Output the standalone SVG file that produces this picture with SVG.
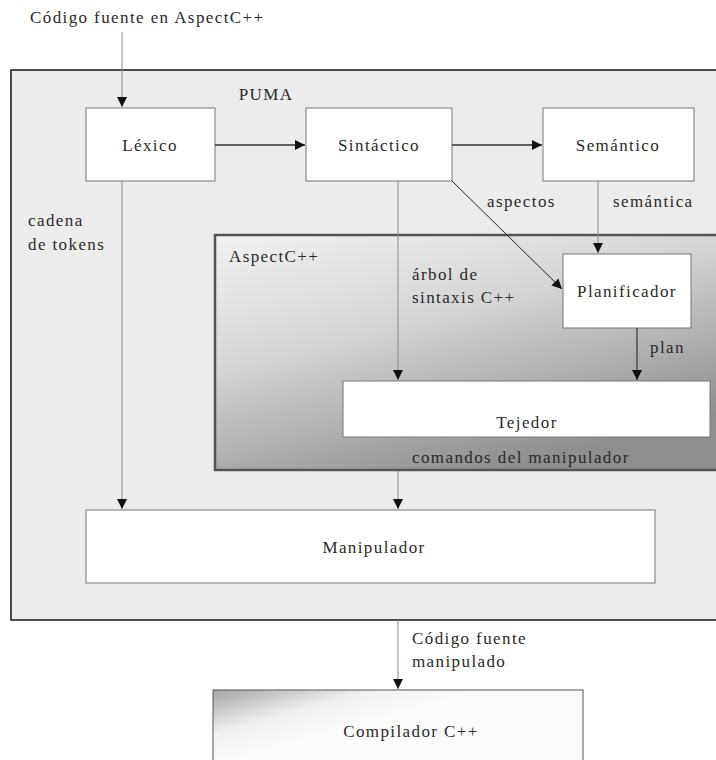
<svg xmlns="http://www.w3.org/2000/svg" width="716" height="760" viewBox="0 0 716 760">
  <defs>
    <style>
      text { font-family: "Liberation Serif", "Times New Roman", serif; font-size: 17px; letter-spacing: 1.4px; fill: #2a2a2a; }
      .mid { text-anchor: middle; }
      .node { fill: #ffffff; stroke: #777777; stroke-width: 1; }
      .thin { fill: none; stroke: #8a8a8a; stroke-width: 1; }
      .bold { fill: none; stroke: #333333; stroke-width: 1.6; }
    </style>
    <marker id="arrow" viewBox="0 0 10 10" refX="10" refY="5" markerWidth="10" markerHeight="10" markerUnits="userSpaceOnUse" orient="auto">
      <path d="M0,0 L10,5 L0,10 Z" fill="#111111"/>
    </marker>
    <linearGradient id="aspectFill" x1="0" y1="0" x2="0.55" y2="1">
      <stop offset="0" stop-color="#f2f2f2"/>
      <stop offset="0.45" stop-color="#d4d4d4"/>
      <stop offset="1" stop-color="#8e8e8e"/>
    </linearGradient>
    <linearGradient id="compFill" x1="0" y1="0" x2="0.45" y2="0.35">
      <stop offset="0" stop-color="#a4a4a4"/>
      <stop offset="0.6" stop-color="#f0f0f0"/>
      <stop offset="1" stop-color="#fbfbfb"/>
    </linearGradient>
  </defs>

  <rect width="716" height="760" fill="#ffffff"/>

  <!-- input label -->
  <text x="30" y="23">Código fuente en AspectC++</text>

  <!-- PUMA container -->
  <g id="puma">
    <rect x="11" y="70" width="720" height="550" fill="#ececec" stroke="#222222" stroke-width="1.6"/>
    <text x="266" y="100" class="mid">PUMA</text>
  </g>

  <!-- AspectC++ container -->
  <g id="aspectcpp">
    <rect x="215" y="235" width="510" height="235" fill="url(#aspectFill)" stroke="#555555" stroke-width="2.5"/>
    <text x="229" y="262">AspectC++</text>
  </g>

  <g id="lexico">
    <rect x="86" y="108" width="129" height="73" class="node"/>
    <text x="150" y="151" class="mid">Léxico</text>
  </g>
  <g id="sintactico">
    <rect x="306" y="108" width="146" height="73" class="node"/>
    <text x="379" y="151" class="mid">Sintáctico</text>
  </g>
  <g id="semantico">
    <rect x="543" y="108" width="151" height="73" class="node"/>
    <text x="618" y="151" class="mid">Semántico</text>
  </g>
  <g id="planificador">
    <rect x="563" y="254" width="128" height="74" class="node" stroke="#444444"/>
    <text x="627" y="297" class="mid">Planificador</text>
  </g>
  <g id="tejedor">
    <rect x="343" y="381" width="367" height="56" class="node" stroke="#444444"/>
    <text x="527" y="428" class="mid">Tejedor</text>
  </g>
  <g id="manipulador">
    <rect x="86" y="510" width="569" height="73" class="node"/>
    <text x="374" y="553" class="mid">Manipulador</text>
  </g>
  <g id="compilador">
    <rect x="213" y="690" width="370" height="80" fill="url(#compFill)" stroke="#555555" stroke-width="1"/>
    <text x="411" y="737" class="mid">Compilador  C++</text>
  </g>

  <!-- connectors -->
  <g id="connectors">
    <line x1="122" y1="32" x2="122" y2="107" class="thin" marker-end="url(#arrow)"/>
    <line x1="215" y1="145" x2="305" y2="145" class="bold" marker-end="url(#arrow)"/>
    <line x1="452" y1="145" x2="542" y2="145" class="bold" marker-end="url(#arrow)"/>
    <line x1="122" y1="181" x2="122" y2="509" class="thin" marker-end="url(#arrow)"/>
    <line x1="398" y1="181" x2="398" y2="380" class="thin" marker-end="url(#arrow)"/>
    <line x1="398" y1="471" x2="398" y2="509" class="thin" marker-end="url(#arrow)"/>
    <line x1="452" y1="181" x2="562" y2="289" stroke="#222222" stroke-width="1" marker-end="url(#arrow)"/>
    <line x1="598" y1="181" x2="598" y2="253" class="thin" marker-end="url(#arrow)"/>
    <line x1="637" y1="328" x2="637" y2="380" stroke="#333333" stroke-width="1.2" marker-end="url(#arrow)"/>
    <line x1="398" y1="620" x2="398" y2="689" class="thin" marker-end="url(#arrow)"/>
  </g>

  <!-- connector labels -->
  <text x="28" y="226">cadena</text>
  <text x="28" y="250">de tokens</text>
  <text x="487" y="207">aspectos</text>
  <text x="613" y="207">semántica</text>
  <text x="412" y="280">árbol de</text>
  <text x="412" y="303">sintaxis C++</text>
  <text x="650" y="353">plan</text>
  <text x="412" y="463">comandos del manipulador</text>
  <text x="412" y="644">Código fuente</text>
  <text x="412" y="667">manipulado</text>
</svg>
